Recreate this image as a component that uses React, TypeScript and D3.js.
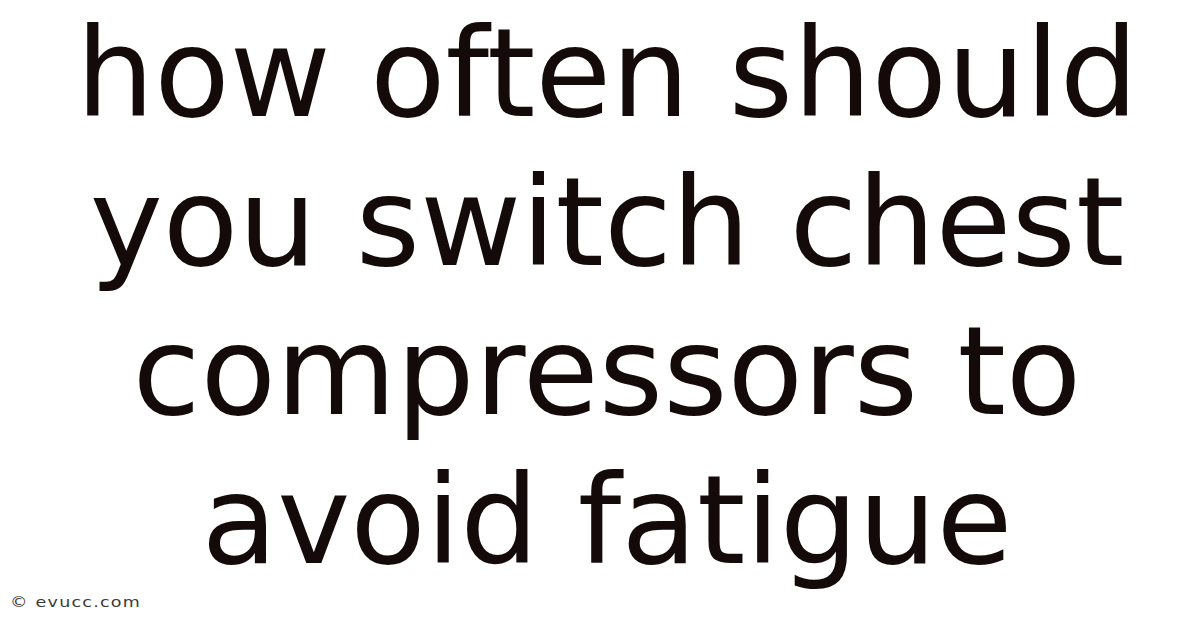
import { useEffect, useRef } from "react";
import * as d3 from "d3";

const W = 1200;
const H = 628;

// title lines, top to bottom
const TITLE_LINES = [
  "how often should",
  "you switch chest",
  "compressors to",
  "avoid fatigue",
];

const CREDIT = "© evucc.com";

const COLORS = {
  bg: "#ffffff",
  text: "#140a0a",
  credit: "#3a3a3a",
};

export default function App() {
  const svgRef = useRef<SVGSVGElement>(null);

  useEffect(() => {
    if (!svgRef.current) return;
    const svg = d3.select(svgRef.current);
    svg.selectAll("*").remove();

    svg.append("rect")
      .attr("width", W)
      .attr("height", H)
      .attr("fill", COLORS.bg);

    // baseline of each line
    const yScale = d3.scaleLinear()
      .domain([0, TITLE_LINES.length - 1])
      .range([116, 563]);

    svg.append("g")
      .attr("class", "title")
      .selectAll("text")
      .data(TITLE_LINES)
      .join("text")
      .attr("x", 607)
      .attr("y", (_, i) => yScale(i))
      .attr("text-anchor", "middle")
      .attr("font-family", "'DejaVu Sans', sans-serif")
      .attr("font-size", 123.5)
      .attr("fill", COLORS.text)
      .text((d) => d);

    // credit is a wide, short face in the reference: stretch it a bit
    svg.append("text")
      .attr("transform", "translate(10,607) scale(1.25,1)")
      .attr("font-family", "'DejaVu Sans', sans-serif")
      .attr("font-size", 14)
      .attr("letter-spacing", 1)
      .attr("fill", COLORS.credit)
      .text(CREDIT);
  }, []);

  return (
    <svg
      ref={svgRef}
      width={W}
      height={H}
      style={{ position: "absolute", left: 0, top: 0, display: "block" }}
    />
  );
}
